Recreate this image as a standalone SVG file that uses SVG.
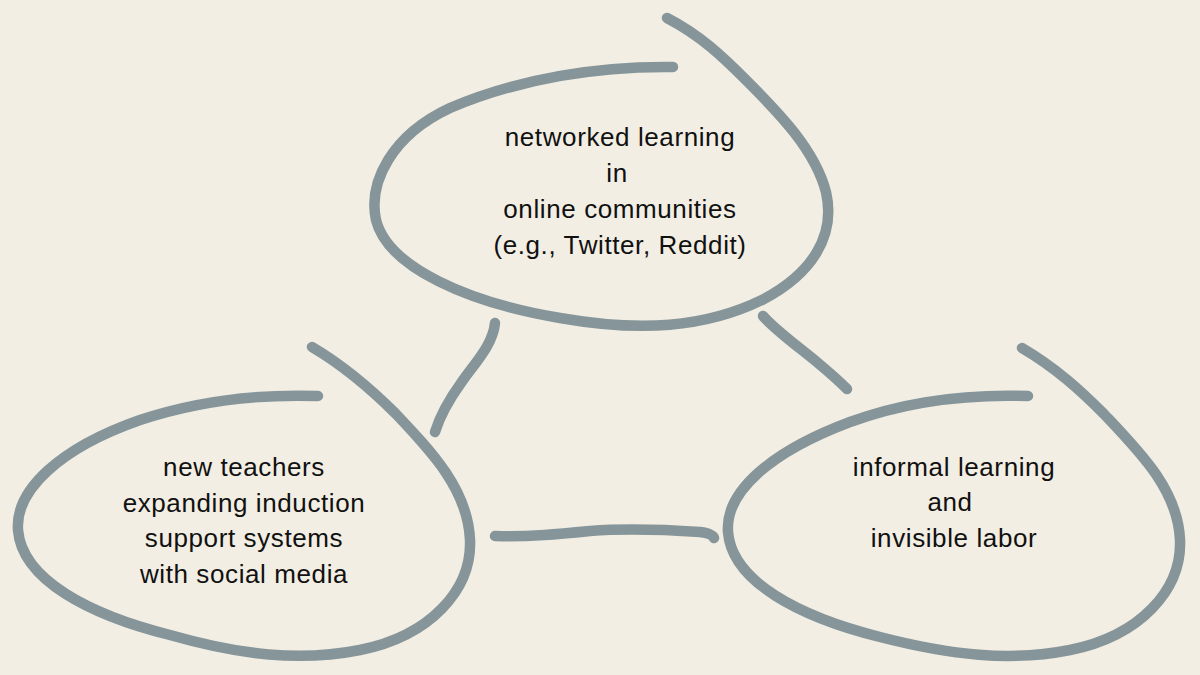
<svg xmlns="http://www.w3.org/2000/svg" width="1200" height="675" viewBox="0 0 1200 675">
<style>
.loop{fill:none;stroke:#86959A;stroke-width:10.5;stroke-linecap:round;stroke-linejoin:round}
.lbl{font-family:"Liberation Sans","DejaVu Sans",sans-serif;font-size:26px;letter-spacing:0.6px;fill:#111;text-anchor:middle}
</style>
<rect width="1200" height="675" fill="#F2EEE3"/>
<g id="connectors">
<path class="loop" d="M495,323 C493,345 474,364 461,383 C448,401 440,416 435,432"/>
<path class="loop" d="M763,316 C775,330 800,348 818,363 C830,373 840,382 847,389"/>
<path class="loop" d="M495,536 C530,537 560,534 590,531 C630,528 670,530 700,532 C708,533 713,535 714,538"/>
</g>
<g id="node-top">
<path class="loop" d="M673,67 C600,66 520,78 450,108 C392,135 368,182 376,220 C388,268 470,303 560,318 C640,332 705,328 762,300 C812,274 836,236 826,192 C815,150 780,114 746,80 C722,56 700,35 667,18"/>
<text class="lbl" x="620" y="146">networked learning</text>
<text class="lbl" x="617" y="182">in</text>
<text class="lbl" x="620" y="218">online communities</text>
<text class="lbl" x="620" y="254">(e.g., Twitter, Reddit)</text>
</g>
<g id="node-left">
<path class="loop" d="M318,396 C260,394 200,400 140,420 C60,448 15,490 18,530 C22,580 90,615 170,635 C240,655 300,662 360,650 C430,636 472,590 470,540 C468,490 432,452 396,414 C372,390 346,367 312,347"/>
<text class="lbl" x="244" y="476">new teachers</text>
<text class="lbl" x="244" y="512">expanding induction</text>
<text class="lbl" x="244" y="547">support systems</text>
<text class="lbl" x="244" y="583">with social media</text>
</g>
<g id="node-right">
<path class="loop" d="M1028,396 C970,394 910,400 850,422 C770,452 725,492 728,532 C732,582 800,617 880,637 C950,655 1010,662 1070,650 C1140,636 1182,590 1180,540 C1178,490 1140,452 1104,414 C1080,390 1056,368 1022,348"/>
<text class="lbl" x="954" y="476">informal learning</text>
<text class="lbl" x="950" y="511">and</text>
<text class="lbl" x="954" y="547">invisible labor</text>
</g>
</svg>
